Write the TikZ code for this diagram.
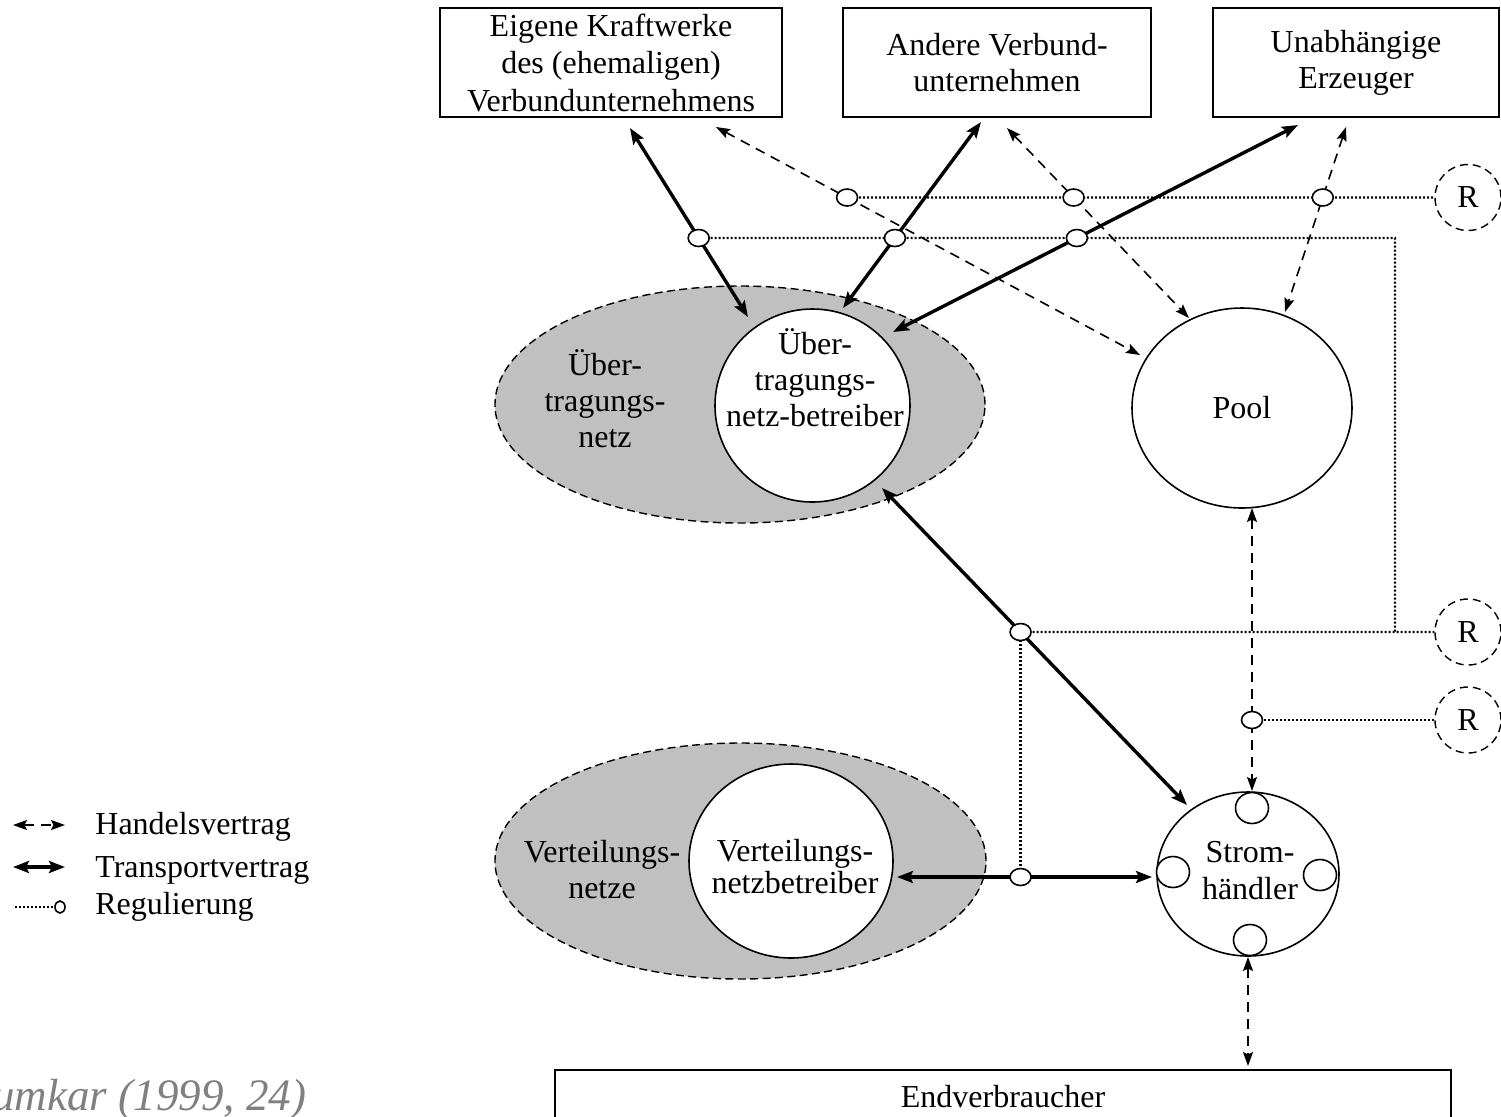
\documentclass[tikz,border=0pt]{standalone}
\usepackage{fontspec}
\setmainfont{Liberation Serif}
\usetikzlibrary{arrows.meta,calc,shapes.geometric}
\definecolor{netgray}{RGB}{192,192,192}
\definecolor{srcgray}{RGB}{128,128,128}
\pgfdeclarelayer{bg}
\pgfdeclarelayer{mid}
\pgfsetlayers{bg,mid,main}
\begin{document}
\begin{tikzpicture}[x=0.5pt,y=-0.5pt,
  font=\fontsize{16}{18}\selectfont,
  ttip/.tip={Stealth[length=8pt,width=6pt,inset=1.5pt]},
  dtip/.tip={Stealth[length=7pt,width=5pt,inset=1.2pt]},
  box/.style={draw,line width=0.7pt,align=center,inner sep=0pt},
  netz/.style={ellipse,draw,dash pattern=on 4pt off 2.2pt,line width=0.7pt,fill=netgray,inner sep=0pt},
  actor/.style={ellipse,draw,line width=0.8pt,fill=white,align=center,inner sep=0pt},
  junc/.style={ellipse,draw,line width=0.8pt,fill=white,minimum width=10.5pt,minimum height=8.5pt,inner sep=0pt},
  port/.style={ellipse,draw,line width=0.8pt,fill=white,minimum width=16.5pt,minimum height=15.5pt,inner sep=0pt},
  regc/.style={circle,draw,dash pattern=on 4pt off 2.5pt,line width=0.7pt,minimum size=33pt,inner sep=0pt},
  transp/.style={line width=1.7pt,{ttip}-{ttip}},
  trade/.style={line width=0.8pt,dash pattern=on 5pt off 3.5pt,{dtip}-{dtip}},
  reg/.style={line width=1.2pt,dash pattern=on 1pt off 1pt},
  lbl/.style={align=center,inner sep=0pt}
]
\useasboundingbox (0,0) rectangle (1501,1116);

% grey network areas
\begin{pgfonlayer}{bg}
\node[netz,minimum width=245pt,minimum height=118.5pt] (E1) at (740,404.5) {};
\node[netz,minimum width=245.5pt,minimum height=118pt] (E2) at (740.5,861) {};
\end{pgfonlayer}

\node[lbl] (E1t) at (605,398.5) {Über-\\tragungs-\\netz};
\node[lbl] (E2t) at (602,870) {Verteilungs-\\netze};

% actors
\node[actor,minimum width=97.5pt,minimum height=96.5pt] (unb) at (812.5,405.5) {};
\node[lbl] (unbt) at (815,378) {Über-\\tragungs-\\netz-betreiber};
\node[actor,minimum width=102pt,minimum height=97pt] (vnb) at (791,861) {};
\node[lbl,font=\fontsize{16}{14.5}\selectfont] (vnbt) at (795,866.5) {Verteilungs-\\netzbetreiber};
\node[actor,minimum width=110pt,minimum height=100pt] (pool) at (1242,408) {Pool};
\node[actor,minimum width=91pt,minimum height=82pt] (sh) at (1248,874) {};
\node[lbl,font=\fontsize{16}{18.5}\selectfont] (sht) at (1250,870.5) {Strom-\\händler};
\node[port] (s1) at (1252,808) {};
\node[port] (s2) at (1173,872) {};
\node[port] (s3) at (1320,875) {};
\node[port] (s4) at (1250,940) {};

% boxes
\node[box,minimum width=171pt,minimum height=54.5pt,font=\fontsize{16}{18.75}\selectfont] (box1) at (611,62.5) {Eigene Kraftwerke\\des (ehemaligen)\\Verbundunternehmens};
\node[box,minimum width=154pt,minimum height=54.5pt] (box2) at (997,62.5) {Andere Verbund-\\unternehmen};
\node[box,minimum width=143pt,minimum height=54.5pt] (box3) at (1356,62.5) {Unabhängige\\Erzeuger};
\node[box,minimum width=448pt,minimum height=27pt] (endv) at (1003,1097) {Endverbraucher};

% regulators
\node[regc] (R1) at (1468,197.5) {R};
\node[regc] (R2) at (1468,632) {R};
\node[regc] (R3) at (1468,720) {R};

% connector ends
\coordinate (t1a) at ($(box1)+(19,65.5)$);
\coordinate (t1b) at ($(unb)+(-64.5,-88.5)$);
\coordinate (t2a) at ($(box2)+(-16,59.5)$);
\coordinate (t2b) at ($(unb)+(30.5,-97.5)$);
\coordinate (t3a) at ($(box3)+(-58,62.5)$);
\coordinate (t3b) at ($(unb)+(80.5,-73.5)$);
\coordinate (t4a) at ($(unb)+(69.5,82.5)$);
\coordinate (t4b) at ($(sh)+(-61,-69)$);
\coordinate (t5a) at ($(vnb)+(106,16)$);
\coordinate (t5b) at ($(sh)+(-96,3)$);
\coordinate (d1a) at ($(box1)+(105,64.5)$);
\coordinate (d1b) at ($(pool)+(-102,-53)$);
\coordinate (d2a) at ($(box2)+(10,65.5)$);
\coordinate (d2b) at ($(pool)+(-53,-90)$);
\coordinate (d3a) at ($(box3)+(-10,64.5)$);
\coordinate (d3b) at ($(pool)+(43,-96)$);
\coordinate (d4a) at ($(pool)+(10,100)$);
\coordinate (d4b) at ($(sh)+(4,-83)$);
\coordinate (d5a) at ($(sh)+(0,83)$);
\coordinate (d5b) at ($(endv)+(245,-31)$);
\coordinate (c2) at (1395,238);

% regulation junctions
\node[junc] (ra) at ($(d1a)!0.3092!(d1b)$) {};
\node[junc] (rb) at ($(d2a)!0.3658!(d2b)$) {};
\node[junc] (rc) at ($(d3a)!0.3811!(d3b)$) {};
\node[junc] (rd) at ($(t1a)!0.5820!(t1b)$) {};
\node[junc] (re) at ($(t2a)!0.6237!(t2b)$) {};
\node[junc] (rf) at ($(t3a)!0.5459!(t3b)$) {};
\node[junc] (rg) at ($(t4a)!0.4543!(t4b)$) {};
\node[junc] (rh) at (d4a |- R3) {};
\node[junc] (ri) at (rg |- t5a) {};

\begin{pgfonlayer}{mid}
% regulation
\draw[reg] (ra.center) -- (rb.center) -- (rc.center) -- (R1);
\draw[reg] (rd.center) -- (c2) -- (c2 |- rg.center);
\draw[reg] (rg.center) -- (R2);
\draw[reg] (rg.center) -- (ri.center);
\draw[reg] (rh.center) -- (R3);
% transport contracts
\draw[transp] (t1a) -- (t1b);
\draw[transp] (t2a) -- (t2b);
\draw[transp] (t3a) -- (t3b);
\draw[transp] (t4a) -- (t4b);
\draw[transp] (t5a) -- (t5b);
% trade contracts
\draw[trade] (d1a) -- (d1b);
\draw[trade] (d2a) -- (d2b);
\draw[trade] (d3a) -- (d3b);
\draw[trade] (d4a) -- (d4b);
\draw[trade] (d5a) -- (d5b);
\end{pgfonlayer}

% legend
\coordinate (lh1) at (13,825);
\coordinate (lh2) at (65,825);
\draw[trade] (lh1) -- (lh2);
\node[anchor=west,inner sep=0pt] (lhand) at (95,827) {Handelsvertrag};
\coordinate (lt1) at (13,867);
\coordinate (lt2) at (65,867);
\draw[transp] (lt1) -- (lt2);
\node[anchor=west,inner sep=0pt] (ltrans) at (95,870) {Transportvertrag};
\node[ellipse,draw,line width=0.8pt,minimum width=5pt,minimum height=6pt,inner sep=0pt] (lreg) at (60,907) {};
\coordinate (lr1) at (15,907);
\draw[reg] (lr1) -- (lreg);
\node[anchor=west,inner sep=0pt] (lregt) at (95,907) {Regulierung};

% source
\node[anchor=base west,inner sep=0pt,text=srcgray,font=\fontsize{22.5}{27}\selectfont\itshape] (src) at (-38,1110) {Kumkar (1999, 24)};
\end{tikzpicture}
\end{document}
